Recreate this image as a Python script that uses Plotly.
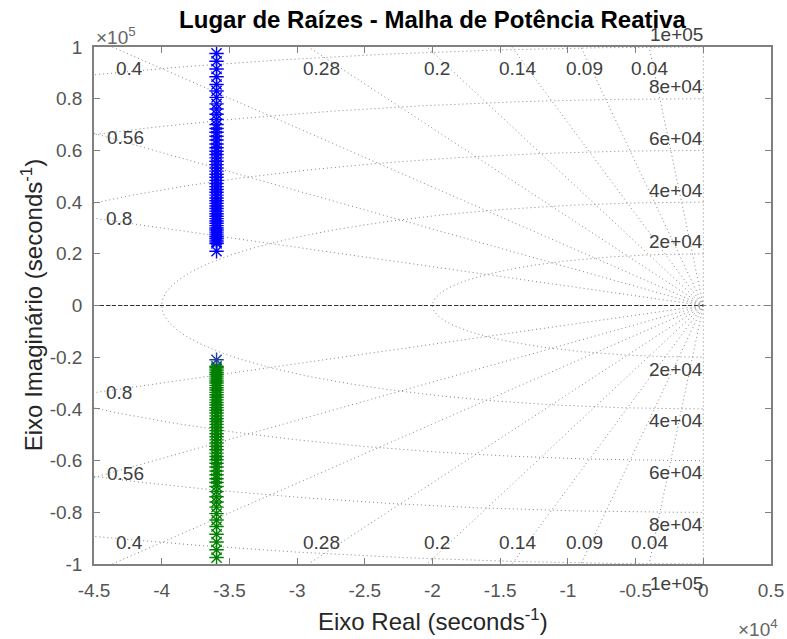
import numpy as np
import plotly.graph_objects as go

# ---------------- data ----------------
title_text = "Lugar de Raízes - Malha de Potência Reativa"
xlabel_text = "Eixo Real (seconds<sup>-1</sup>)"
ylabel_text = "Eixo Imaginário (seconds<sup>-1</sup>)"

x_tickvals = [-45000, -40000, -35000, -30000, -25000, -20000, -15000, -10000, -5000, 0, 5000]
x_ticktext = ["-4.5", "-4", "-3.5", "-3", "-2.5", "-2", "-1.5", "-1", "-0.5", "0", "0.5"]
y_tickvals = [-100000, -80000, -60000, -40000, -20000, 0, 20000, 40000, 60000, 80000, 100000]
y_ticktext = ["-1", "-0.8", "-0.6", "-0.4", "-0.2", "0", "0.2", "0.4", "0.6", "0.8", "1"]

# root-locus branches (real part is constant)
locus_real = -35950
branch1_imag = [97500, 94500, 91500, 88500, 85500, 83000, 80500, 78000, 76000, 74000,
                72000, 70000, 68500, 67000, 65500, 64000, 62500, 61000, 59700, 58400,
                57100, 55800, 54500, 53200, 52000, 50800, 49600, 48400, 47200, 46000,
                44900, 43800, 42700, 41600, 40500, 39500, 38500, 37500, 36500, 35500,
                34500, 33600, 32700, 31800, 30900, 30000, 29200, 28400, 27600, 26800,
                26000, 25300, 24600, 24000, 21000]
branch2_imag = [-23500, -24000, -24600, -25300, -26000, -26800, -27600, -28400, -29200,
                -30000, -30900, -31800, -32700, -33600, -34500, -35500, -36500, -37500,
                -38500, -39500, -40500, -41600, -42700, -43800, -44900, -46000, -47200,
                -48400, -49600, -50800, -52000, -53200, -54500, -55800, -57100, -58400,
                -59700, -61000, -62500, -64000, -65500, -67000, -68500, -70000, -72000,
                -74000, -76000, -78000, -80500, -83000, -85500, -88500, -91500, -94500,
                -97500]
start_pole_imag = [-21000]

# s-plane grid (sgrid) parameters
zeta_values = [0.04, 0.09, 0.14, 0.2, 0.28, 0.4, 0.56, 0.8]
wn_values = [20000, 40000, 60000, 80000, 100000]
wn_labels = ["2e+04", "4e+04", "6e+04", "8e+04", "1e+05"]
wn_label_offset = [24800, 44500, 64600, 84700, 105600]

# damping label positions (x, y)
zeta_top_labels = [("0.4", -42400), ("0.28", -28230), ("0.2", -19670),
                   ("0.14", -13690), ("0.09", -8740), ("0.04", -3940)]
zeta_top_y = 91500
zeta_left_labels = [("0.56", -42710, 65000), ("0.8", -43150, 33700)]

X_MIN, X_MAX = -45000, 5000
Y_MIN, Y_MAX = -100000, 100000

GRID_COLOR = "#858585"
GRID_DASH = "1px,3px"
FONT = "Liberation Sans, Arial, Helvetica, sans-serif"

fig = go.Figure()

# ---------------- sgrid: damping lines (start at the origin) ----------------
for z in zeta_values:
    s = np.sqrt(1 - z * z)
    t = min(-X_MIN / z, Y_MAX / s)
    for sign in (1, -1):
        fig.add_trace(go.Scatter(x=[0, -z * t], y=[0, sign * s * t], mode="lines",
                                 line=dict(color=GRID_COLOR, width=1, dash=GRID_DASH),
                                 hoverinfo="skip", showlegend=False))
# zeta = 0 (imaginary axis)
for sign in (1, -1):
    fig.add_trace(go.Scatter(x=[0, 0], y=[0, sign * Y_MAX], mode="lines",
                             line=dict(color=GRID_COLOR, width=1, dash=GRID_DASH),
                             hoverinfo="skip", showlegend=False))
# zeta = 1 (negative real axis)
fig.add_trace(go.Scatter(x=[0, X_MIN], y=[0, 0], mode="lines",
                         line=dict(color=GRID_COLOR, width=1, dash=GRID_DASH),
                         hoverinfo="skip", showlegend=False))

# ---------------- sgrid: natural frequency circles ----------------
theta = np.linspace(np.pi / 2, 3 * np.pi / 2, 721)
for wn in wn_values:
    fig.add_trace(go.Scatter(x=wn * np.cos(theta), y=wn * np.sin(theta), mode="lines",
                             line=dict(color=GRID_COLOR, width=1, dash=GRID_DASH),
                             hoverinfo="skip", showlegend=False))

# ---------------- real axis line ----------------
fig.add_trace(go.Scatter(x=[X_MIN, 0], y=[0, 0], mode="lines",
                         line=dict(color="#333333", width=1, dash="4px,2px"),
                         hoverinfo="skip", showlegend=False))
fig.add_trace(go.Scatter(x=[0, X_MAX], y=[0, 0], mode="lines",
                         line=dict(color="#8a8a8a", width=1, dash="3px,3px"),
                         hoverinfo="skip", showlegend=False))

# ---------------- root locus branches ----------------
MK = 12
fig.add_trace(go.Scatter(x=[locus_real] * len(branch1_imag), y=branch1_imag, mode="markers",
                         marker=dict(symbol="asterisk-open", size=MK, color="#0000ff",
                                     line=dict(color="#0000ff", width=1.4)),
                         showlegend=False))
fig.add_trace(go.Scatter(x=[locus_real] * len(branch2_imag), y=branch2_imag, mode="markers",
                         marker=dict(symbol="asterisk-open", size=MK, color="#008000",
                                     line=dict(color="#008000", width=1.4)),
                         showlegend=False))
fig.add_trace(go.Scatter(x=[locus_real] * len(start_pole_imag), y=start_pole_imag, mode="markers",
                         marker=dict(symbol="asterisk-open", size=MK, color="#1f3f9f",
                                     line=dict(color="#1f3f9f", width=1.4)),
                         showlegend=False))

# ---------------- grid labels ----------------
ann = []
lab_font = dict(family=FONT, size=19, color="#404040")
for txt, x in zeta_top_labels:
    ann.append(dict(x=x, y=zeta_top_y, text=txt, showarrow=False, font=lab_font,
                    xanchor="center", yanchor="middle"))
    ann.append(dict(x=x, y=-zeta_top_y, text=txt, showarrow=False, font=lab_font,
                    xanchor="center", yanchor="middle"))
for txt, x, y in zeta_left_labels:
    ann.append(dict(x=x, y=y, text=txt, showarrow=False, font=lab_font,
                    xanchor="center", yanchor="middle"))
    ann.append(dict(x=x, y=-y, text=txt, showarrow=False, font=lab_font,
                    xanchor="center", yanchor="middle"))
for wn, txt, yoff in zip(wn_values, wn_labels, wn_label_offset):
    if yoff <= Y_MAX:
        ann.append(dict(x=0, y=yoff, text=txt, showarrow=False, font=lab_font,
                        xanchor="right", yanchor="middle", xshift=2))
        ann.append(dict(x=0, y=-yoff, text=txt, showarrow=False, font=lab_font,
                        xanchor="right", yanchor="middle", xshift=2))
    else:
        # label lies just outside the plotted range: place it relative to the axis edge
        ann.append(dict(x=0, xref="x", y=1, yref="paper", text=txt, showarrow=False,
                        font=lab_font, xanchor="right", yanchor="middle", xshift=2, yshift=13))
        ann.append(dict(x=0, xref="x", y=0, yref="paper", text=txt, showarrow=False,
                        font=lab_font, xanchor="right", yanchor="middle", xshift=2, yshift=-19))

# exponent labels
exp_font = dict(family=FONT, size=19, color="#666666")
ann.append(dict(xref="paper", yref="paper", x=0, y=1, xanchor="left", yanchor="bottom",
                xshift=0, yshift=-3, text="×10<sup>5</sup>", showarrow=False, font=exp_font))
ann.append(dict(xref="paper", yref="paper", x=1, y=-0.124, xanchor="right", yanchor="middle",
                xshift=9, text="×10<sup>4</sup>", showarrow=False, font=exp_font))

# axis titles as annotations
ann.append(dict(xref="paper", yref="paper", x=0.5, y=-0.108, xanchor="center", yanchor="middle",
                text=xlabel_text, showarrow=False,
                font=dict(family=FONT, size=24, color="#262626")))
ann.append(dict(xref="paper", yref="paper", x=-0.092, y=0.5, xanchor="center", yanchor="middle",
                text=ylabel_text, textangle=-90, showarrow=False,
                font=dict(family=FONT, size=24, color="#262626")))

axis_common = dict(showgrid=False, zeroline=False, showline=True, linecolor="#808080",
                   linewidth=1.5, mirror="allticks", ticks="inside", ticklen=6,
                   tickcolor="#808080", tickwidth=1, automargin=False,
                   tickfont=dict(family=FONT, size=19, color="#555555"))

fig.update_layout(
    width=787, height=639,
    margin=dict(l=94, r=16, t=47, b=75, autoexpand=False),
    paper_bgcolor="white", plot_bgcolor="white",
    title=dict(text="<b>" + title_text + "</b>", x=0.5 * (94 + 771) / 787, xanchor="center",
               y=1 - 20 / 639, yanchor="middle", yref="container",
               font=dict(family=FONT, size=24, color="#000000")),
    xaxis=dict(range=[X_MIN, X_MAX], tickvals=x_tickvals, ticktext=x_ticktext,
               ticklabelstandoff=8, **axis_common),
    yaxis=dict(range=[Y_MIN, Y_MAX], tickvals=y_tickvals, ticktext=y_ticktext,
               ticklabelstandoff=6, **axis_common),
    annotations=ann,
)

fig.write_html("out.html")
